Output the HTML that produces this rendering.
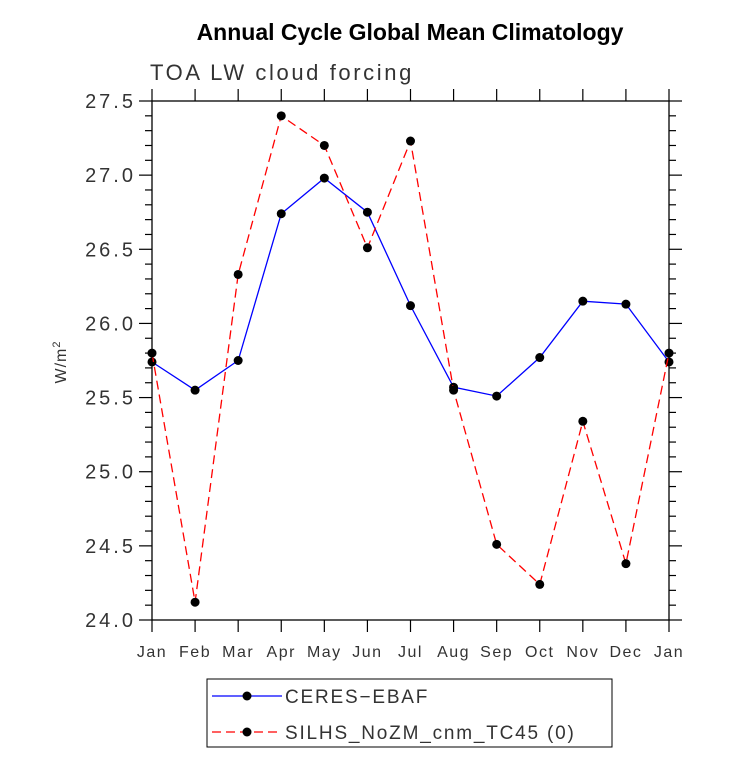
<!DOCTYPE html>
<html><head><meta charset="utf-8"><style>
body{margin:0;background:#fff;width:733px;height:754px;overflow:hidden}
text{font-family:"Liberation Sans",sans-serif}
</style></head><body>
<svg id="c" width="733" height="754">
<text x="410" y="40" text-anchor="middle" font-size="23" font-weight="bold">Annual Cycle Global Mean Climatology</text>
<text x="150" y="80" font-size="22" fill="#333" letter-spacing="2.6">TOA LW cloud forcing</text>
<text transform="translate(66,362) rotate(-90)" text-anchor="middle" font-size="16" fill="#333" letter-spacing="1">W/m<tspan font-size="11" dy="-6">2</tspan></text>
<rect x="152" y="101" width="517" height="519" fill="none" stroke="#000" stroke-width="1.3"/>
<g id="ax"></g><g id="series"></g>
<rect x="207" y="679" width="405" height="68" fill="#fff" stroke="#000"/>
<g>
<line x1="212" y1="696" x2="282" y2="696" stroke="#00f" stroke-width="1.3"/><circle cx="247" cy="696" r="4.5"/>
<text x="285" y="703" font-size="19" fill="#333" letter-spacing="1.8">CERES−EBAF</text></g>
<g>
<line x1="212" y1="732" x2="282" y2="732" stroke="#f00" stroke-width="1.3" stroke-dasharray="9,5"/><circle cx="247" cy="732" r="4.5"/>
<text x="285" y="739" font-size="19" fill="#333" letter-spacing="1.8">SILHS_NoZM_cnm_TC45 (0)</text></g>
</svg>
<script>
const months=["Jan","Feb","Mar","Apr","May","Jun","Jul","Aug","Sep","Oct","Nov","Dec","Jan"];
const ceres=[25.74,25.55,25.75,26.74,26.98,26.75,26.12,25.57,25.51,25.77,26.15,26.13,25.74];
const silhs=[25.80,24.12,26.33,27.40,27.20,26.51,27.23,25.55,24.51,24.24,25.34,24.38,25.80];
const yTicks=[24.0,24.5,25.0,25.5,26.0,26.5,27.0,27.5];
const L=152,R=669,T=101,B=620,ymin=24,ymax=27.5;
const xs=i=>L+i*(R-L)/12, ys=v=>B-(v-ymin)/(ymax-ymin)*(B-T);
const NS="http://www.w3.org/2000/svg";
function mk(p,t,a){const e=document.createElementNS(NS,t);for(const k in a)e.setAttribute(k,a[k]);p.appendChild(e);return e;}
const ax=document.getElementById('ax');
for(let v=ymin;v<=ymax+1e-6;v+=0.1){const y=ys(v);const maj=Math.abs(v*2-Math.round(v*2))<1e-6;const l=maj?13:7;
mk(ax,'line',{x1:L-l,x2:L,y1:y,y2:y,stroke:'#000','stroke-width':1.2});mk(ax,'line',{x1:R,x2:R+l,y1:y,y2:y,stroke:'#000','stroke-width':1.2});}
yTicks.forEach(v=>{const t=mk(ax,'text',{x:L-16,y:ys(v)+7,'text-anchor':'end','font-size':20,fill:'#333','letter-spacing':3});t.textContent=v.toFixed(1);

});
months.forEach((m,i)=>{const x=xs(i);mk(ax,'line',{x1:x,x2:x,y1:B,y2:B+12,stroke:'#000','stroke-width':1.2});mk(ax,'line',{x1:x,x2:x,y1:T-12,y2:T,stroke:'#000','stroke-width':1.2});
const t=mk(ax,'text',{x:x,y:B+37,'text-anchor':'middle','font-size':16,fill:'#333','letter-spacing':1.5});t.textContent=m;

});
const sg=document.getElementById('series');
function draw(d,col,dash,name){const g=mk(sg,'g',{});


mk(g,'polyline',{points:d.map((v,i)=>xs(i)+','+ys(v)).join(' '),fill:'none',stroke:col,'stroke-width':1.3,'stroke-dasharray':dash});
d.forEach((v,i)=>{const c=mk(g,'circle',{cx:xs(i),cy:ys(v),r:4.5,fill:'#000'});

});}
draw(ceres,'#00f','none','ceres-line');
draw(silhs,'#f00','9,5','silhs-line');
</script>
</body></html>
